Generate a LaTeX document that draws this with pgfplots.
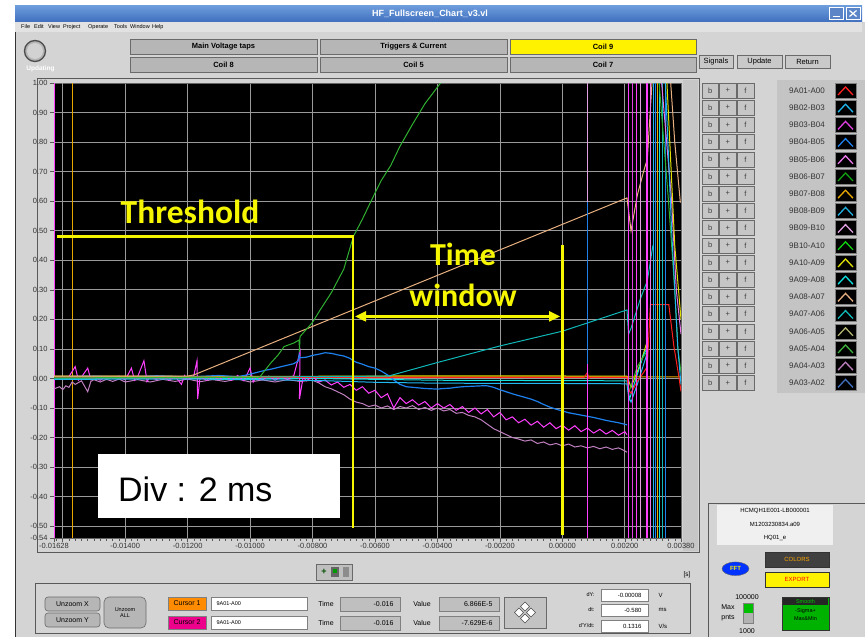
\documentclass[border=0pt]{standalone}
\usepackage{fontspec}
\setmainfont{Liberation Sans}
\newfontfamily\calib{Carlito}
\usepackage{pgfplots}
\pgfplotsset{compat=1.18}
\usetikzlibrary{arrows.meta}
\newcommand\fs[1]{\fontsize{#1}{#1}\selectfont}
\newcommand\tl[1]{\mbox{#1}}
\definecolor{panel}{HTML}{D4D4D4}
\definecolor{btngray}{HTML}{B6B6B6}
\definecolor{btnline}{HTML}{6A6A6A}
\definecolor{titletop}{HTML}{6E9EDC}
\definecolor{titlebot}{HTML}{3F6FBE}
\definecolor{menugray}{HTML}{E2E2E2}
\definecolor{lblgray}{HTML}{C4C4C4}
\definecolor{gridc}{HTML}{9A9A9A}
\definecolor{yel}{HTML}{F6F600}
\definecolor{cA}{HTML}{FF2020}
\definecolor{cB}{HTML}{20B8F0}
\definecolor{cC}{HTML}{E040E0}
\definecolor{cD}{HTML}{1E80EC}
\definecolor{cE}{HTML}{E878E8}
\definecolor{cF}{HTML}{10A010}
\definecolor{cG}{HTML}{E8A800}
\definecolor{cH}{HTML}{20B0E0}
\definecolor{cI}{HTML}{E0A0E0}
\definecolor{cJ}{HTML}{10D010}
\definecolor{cK}{HTML}{E0E000}
\definecolor{cL}{HTML}{10E0E0}
\definecolor{cM}{HTML}{E8B080}
\definecolor{cN}{HTML}{10B8B8}
\definecolor{cO}{HTML}{B0B070}
\definecolor{cP}{HTML}{40B040}
\definecolor{cQ}{HTML}{C080C0}
\definecolor{cR}{HTML}{4070C0}
\definecolor{magb}{HTML}{FF40FF}
\definecolor{grn}{HTML}{30B030}
\tikzset{btn/.style={draw=btnline, fill=btngray, line width=0.6pt},
  fld/.style={draw=gray, fill=white, line width=0.5pt},
  ind/.style={draw=gray, fill=panel!90!black, line width=0.5pt}}
\begin{document}
\begin{tikzpicture}
\path[use as bounding box] (0,0) rectangle (865pt,-637pt);
\begin{scope}[x=1pt,y=-1pt]
\fill[white] (0,0) rectangle (865,637);
\fill[panel] (15,22) rectangle (865,637);
\draw[black!80, line width=0.8pt] (15,5) -- (15,637);
\shade[top color=titletop, bottom color=titlebot] (15,5) rectangle (862,22);
\node[text=white, font=\bfseries\fs{9}] at (430,14) {HF\_Fullscreen\_Chart\_v3.vl};
\draw[white, fill=titlebot!85!white, line width=0.5pt] (829,7.5) rectangle (843,19.5);
\draw[white, line width=1.2pt] (832.5,16.5) -- (839.5,16.5);
\draw[white, fill=titlebot!85!white, line width=0.5pt] (846,7.5) rectangle (860,19.5);
\draw[white, line width=1.2pt] (849.5,10.5) -- (856.5,16.5) (849.5,16.5) -- (856.5,10.5);
\fill[menugray] (15,22) rectangle (862,32);
\foreach \w/\xx in {File/21,Edit/34,View/48,Project/63,Operate/88,Tools/114,Window/130,Help/152}
  \node[anchor=west, inner sep=0pt, font=\fs{5.5}] at (\xx,27) {\w};
% LED
\fill[gray!60] (35,51) circle (10.5);
\fill[gray!35] (35,51) circle (8);
\draw[black!70, line width=1.3pt] (35,51) circle (10.5);
\node[text=white, font=\bfseries\fs{6.5}] at (40.5,69) {Updating};
% top buttons
\draw[btn] (130,39) rectangle (317,54); \node[font=\bfseries\fs{7.5}] at (223.5,46.5) {Main Voltage taps};
\draw[btn] (320,39) rectangle (507,54); \node[font=\bfseries\fs{7.5}] at (413.5,46.5) {Triggers \& Current};
\draw[btn, fill=yellow] (510,39) rectangle (696,54); \node[font=\bfseries\fs{7.5}] at (603,46.5) {Coil 9};
\draw[btn] (130,57) rectangle (317,72); \node[font=\bfseries\fs{7.5}] at (223.5,64.5) {Coil 8};
\draw[btn] (320,57) rectangle (507,72); \node[font=\bfseries\fs{7.5}] at (413.5,64.5) {Coil 5};
\draw[btn] (510,57) rectangle (696,72); \node[font=\bfseries\fs{7.5}] at (603,64.5) {Coil 7};
\draw[btn, fill=panel!95!black] (699,55) rectangle (733,68); \node[font=\fs{7.5}] at (716,61.5) {Signals};
\draw[btn, fill=panel!95!black] (737,55) rectangle (782,68); \node[font=\fs{7.5}] at (759.5,61.5) {Update};
\draw[btn, fill=panel!95!black] (785,55) rectangle (830,68); \node[font=\fs{7.5}] at (807.5,61.5) {Return};
% chart panel
\draw[gray!70!black, line width=0.5pt] (37,78) rectangle (699,552);
\fill[gray!45] (683,80) rectangle (698,551);
\node[font=\fs{6.5}] at (687,575) {[s]};
% legend
\fill[lblgray] (777,80) rectangle (865,393);
\foreach \lab/\col [count=\i from 0] in {9A01-A00/cA,9B02-B03/cB,9B03-B04/cC,9B04-B05/cD,9B05-B06/cE,9B06-B07/cF,9B07-B08/cG,9B08-B09/cH,9B09-B10/cI,9B10-A10/cJ,9A10-A09/cK,9A09-A08/cL,9A08-A07/cM,9A07-A06/cN,9A06-A05/cO,9A05-A04/cP,9A04-A03/cQ,9A03-A02/cR}{
  \pgfmathsetmacro\yy{83+17.2*\i}
  \draw[btn, fill=gray!45] (702,\yy) rectangle ++(16.5,15);
  \draw[btn, fill=gray!45] (719.5,\yy) rectangle ++(16.5,15);
  \draw[btn, fill=gray!45] (737,\yy) rectangle ++(17,15);
  \node[font=\fs{7.5}, text=black!75] at (710.2,\yy+7.5) {b};
  \node[font=\fs{7.5}, text=black!75] at (727.7,\yy+7.5) {+};
  \node[font=\fs{7.5}, text=black!75] at (745.5,\yy+7.5) {f};
  \node[font=\fs{8}, text=black!80] at (807,\yy+7.5) {\lab};
  \fill[black] (835,\yy) rectangle ++(21,15);
  \draw[gray, line width=0.4pt] (835,\yy) rectangle ++(21,15);
  \draw[\col, line width=1.3pt] (838,\yy+12) -- (845.5,\yy+4) -- (853,\yy+12);
}
% toolbar
\draw[btn, fill=panel!90!black] (316,564) rectangle (352,580);
\node[font=\bfseries\fs{9}, text=black!70!green] at (324,572) {+};
\fill[black!60] (331,567) rectangle (339,577); \fill[green!60!black] (333,569) rectangle (337,573);
\fill[black!45] (343,567) rectangle (349,577);
% cursor panel
\draw[gray!70!black, line width=0.5pt] (35,583) rectangle (690,633);
\draw[btn, rounded corners=3pt] (45,597) rectangle (100,611); \node[font=\fs{7}] at (72.5,604) {Unzoom X};
\draw[btn, rounded corners=3pt] (45,613) rectangle (100,627); \node[font=\fs{7}] at (72.5,620) {Unzoom Y};
\draw[btn, rounded corners=5pt] (104,597) rectangle (146,628); \node[font=\fs{5.5}, align=center] at (125,612.5) {Unzoom\\ALL};
\draw[gray, fill=orange!90!yellow] (168,597) rectangle (206,610); \node[font=\fs{7}] at (187,603.5) {Cursor 1};
\draw[gray, fill=magenta] (168,616) rectangle (206,629); \node[font=\fs{7}] at (187,622.5) {Cursor 2};
\draw[fld] (211,597) rectangle (307,610); \node[anchor=west, font=\fs{5.5}] at (213,603.5) {9A01-A00};
\draw[fld] (211,616) rectangle (307,629); \node[anchor=west, font=\fs{5.5}] at (213,622.5) {9A01-A00};
\node[font=\fs{7}] at (326,603.5) {Time}; \node[font=\fs{7}] at (326,622.5) {Time};
\draw[ind] (340,597) rectangle (400,611); \node[anchor=east, font=\fs{7}] at (397,604) {-0.016};
\draw[ind] (340,616) rectangle (400,630); \node[anchor=east, font=\fs{7}] at (397,623) {-0.016};
\node[font=\fs{7}] at (422,603.5) {Value}; \node[font=\fs{7}] at (422,622.5) {Value};
\draw[ind] (439,597) rectangle (499,611); \node[anchor=east, font=\fs{7}] at (496,604) {6.866E-5};
\draw[ind] (439,616) rectangle (499,630); \node[anchor=east, font=\fs{7}] at (496,623) {-7.629E-6};
\draw[btn, fill=panel!92!black] (504,597) rectangle (546,628);
\foreach \dx/\dy in {0/-6,0/6,-6/0,6/0}
  \draw[black!70, fill=white, line width=0.6pt] (525+\dx,612.5+\dy) ++(0,-4.5) -- ++(4.5,4.5) -- ++(-4.5,4.5) -- ++(-4.5,-4.5) -- cycle;
\node[anchor=east, font=\fs{5.5}] at (598,595) {dY:};
\node[anchor=east, font=\fs{5.5}] at (598,610) {dt:};
\node[anchor=east, font=\fs{5.5}] at (598,626) {d'Y/dt:};
\draw[fld] (601,589) rectangle (648,601); \node[anchor=east, font=\fs{6}] at (645,595) {-0.00008};
\draw[fld] (601,604) rectangle (648,616); \node[anchor=east, font=\fs{6}] at (645,610) {-0.580};
\draw[fld] (601,620) rectangle (648,632); \node[anchor=east, font=\fs{6}] at (645,626) {0.1316};
\node[anchor=west, font=\fs{6}] at (655,595) {V};
\node[anchor=west, font=\fs{6}] at (655,610) {ms};
\node[anchor=west, font=\fs{6}] at (655,626) {V/s};
% right bottom panel
\draw[gray!70!black, line width=0.5pt] (708,503) rectangle (866,640);
\fill[gray!12] (717,505) rectangle (833,545);
\node[font=\fs{6}] at (775,511) {HCMQH1E001-LB000001};
\node[font=\fs{6}] at (775,524.5) {M1203230834.a09};
\node[font=\fs{6}] at (775,538) {HQ01\_e};
\fill[blue!80!cyan] (735.5,568.75) ellipse (13.5 and 6.8);
\draw[black!60] (735.5,568.75) ellipse (13.5 and 6.8);
\node[font=\bfseries\fs{6}, text=yellow] at (735.5,568.75) {FFT};
\draw[black!80, fill=black!75, line width=0.8pt] (765,552) rectangle (829,567);
\node[font=\fs{6}, text=orange!70!yellow] at (797,559.5) {COLORS};
\draw[black!80, fill=yellow, line width=0.8pt] (765,572) rectangle (829,587);
\node[font=\fs{6}, text=red] at (797,579.5) {EXPORT};
\node[font=\fs{7}] at (747,597.5) {100000};
\node[font=\fs{7}] at (728,607) {Max};
\node[font=\fs{7}] at (728,618) {pnts};
\node[font=\fs{7}] at (747,631) {1000};
\draw[gray] (743,603) rectangle (753,623);
\fill[green!75!black] (743.5,603.5) rectangle (752.5,613);
\fill[gray!60] (743.5,613) rectangle (752.5,622.5);
\draw[black!80, fill=green!70!black, line width=0.6pt] (782,597) rectangle (829,630);
\fill[black!85] (783,598) rectangle (828,605);
\node[font=\fs{5.5}, text=green!80!black] at (805.5,601.5) {Smooth};
\node[font=\fs{5.5}] at (805.5,611) {-Sigma+};
\node[font=\fs{5.5}] at (805.5,618.5) {Max\&Min};
\end{scope}
\begin{axis}[
  at={(54pt,-538pt)}, anchor=south west,
  scale only axis, width=627pt, height=455pt,
  xmin=-0.01628, xmax=0.0038, ymin=-0.54, ymax=1.0,
  axis background/.style={fill=black},
  axis line style={draw=black!60, line width=0.6pt},
  xtick={-0.01628,-0.014,-0.012,-0.01,-0.008,-0.006,-0.004,-0.002,0,0.002,0.0038},
  xticklabels={\tl{-0.01628},\tl{-0.01400},\tl{-0.01200},\tl{-0.01000},\tl{-0.00800},\tl{-0.00600},\tl{-0.00400},\tl{-0.00200},\tl{0.00000},\tl{0.00200},\tl{0.00380}},
  extra x ticks={-0.016}, extra x tick labels={},
  minor xtick={-0.0162,-0.016,...,0.0038},
  ytick={-0.54,-0.5,-0.4,-0.3,-0.2,-0.1,0,0.1,0.2,0.3,0.4,0.5,0.6,0.7,0.8,0.9,1.0},
  yticklabels={\tl{-0.54},\tl{-0.50},\tl{-0.40},\tl{-0.30},\tl{-0.20},\tl{-0.10},\tl{0.00},\tl{0.10},\tl{0.20},\tl{0.30},\tl{0.40},\tl{0.50},\tl{0.60},\tl{0.70},\tl{0.80},\tl{0.90},\tl{1.00}},
  scaled x ticks=false, scaled y ticks=false,
  xtick pos=bottom, ytick pos=left, tick align=outside,
  major tick length=4pt, minor tick length=2.5pt,
  tick style={black!65, line width=0.5pt},
  grid=major, major grid style={gridc, line width=0.7pt},
  ticklabel style={font=\fs{7.5}, text=black!80},
  xticklabel style={yshift=2pt},
  yticklabel style={xshift=1pt},
  no markers, clip=true,
  every axis plot/.append style={line width=1pt},
]
% cursors
\addplot[cG, line width=0.8pt] coordinates {(-0.01570,-0.54) (-0.01570,1.0)};
\addplot[magb, line width=1pt] coordinates {(-0.01626,-0.54) (-0.01626,1.0)};
% near-zero flat series
\addplot[cK] coordinates {(-0.01628,0.008) (-0.009,0.007) (-0.004,0.009) (0.00207,0.008) (0.0022,-0.03) (0.0025,0.05) (0.0027,0.12)};
\addplot[cL] coordinates {(-0.01628,0.002) (-0.008,0.000) (-0.004,-0.006) (0.00207,-0.008) (0.00215,-0.07) (0.0026,0.08) (0.0027,0.10)};
\addplot[grn] coordinates {(0.00212,-0.05) (0.0024,0.04) (0.0027,0.09)};
% mauve
\addplot[cQ] coordinates {
(-0.01628,-0.035) (-0.0161,-0.028) (-0.0160,-0.038) (-0.0159,-0.025) (-0.0158,-0.03) (-0.0157,-0.012)
(-0.0156,-0.02) (-0.0154,-0.008) (-0.0152,-0.045) (-0.0151,-0.01) (-0.0150,-0.004) (-0.0148,-0.012)
(-0.0146,-0.003) (-0.0144,-0.01) (-0.0142,-0.002) (-0.0140,-0.012) (-0.0136,-0.004) (-0.0132,-0.012)
(-0.0128,-0.003) (-0.0124,-0.01) (-0.0120,-0.002) (-0.0116,-0.011) (-0.0112,-0.004) (-0.0108,-0.01)
(-0.0104,-0.002) (-0.0100,-0.012) (-0.0096,-0.005) (-0.0092,-0.012) (-0.0088,-0.004) (-0.0084,-0.01)
(-0.0080,-0.006) (-0.0078,-0.015) (-0.0076,-0.028) (-0.0074,-0.035) (-0.0072,-0.045) (-0.0070,-0.055)
(-0.0068,-0.07) (-0.0066,-0.08) (-0.0064,-0.085) (-0.0062,-0.095) (-0.0060,-0.09) (-0.0058,-0.1)
(-0.0056,-0.093) (-0.0054,-0.105) (-0.0052,-0.095) (-0.0050,-0.1) (-0.0048,-0.092) (-0.0046,-0.105)
(-0.0044,-0.098) (-0.0042,-0.108) (-0.0040,-0.1) (-0.0038,-0.11) (-0.0036,-0.105) (-0.0034,-0.118)
(-0.0032,-0.115) (-0.0030,-0.125) (-0.0028,-0.13) (-0.0026,-0.14) (-0.0024,-0.155) (-0.0022,-0.17)
(-0.0020,-0.18) (-0.0018,-0.19) (-0.0016,-0.2) (-0.0014,-0.205) (-0.0012,-0.212) (-0.0010,-0.208)
(-0.0008,-0.22) (-0.0006,-0.215) (-0.0004,-0.225) (-0.0002,-0.22) (0.0000,-0.228) (0.0002,-0.222)
(0.0004,-0.232) (0.0006,-0.228) (0.0008,-0.235) (0.0010,-0.23) (0.0012,-0.238) (0.0014,-0.232)
(0.0016,-0.24) (0.0018,-0.235) (0.0020,-0.245) (0.00207,-0.25)};
% magenta
\addplot[magb] coordinates {
(-0.01628,0.00) (-0.0162,0.006) (-0.0160,-0.004) (-0.0158,0.007) (-0.0156,0.04) (-0.0155,-0.006)
(-0.0154,0.005) (-0.0152,0.035) (-0.0151,-0.004) (-0.0150,0.006) (-0.0148,-0.006) (-0.0146,0.007)
(-0.0144,0.0) (-0.0142,0.008) (-0.0140,-0.005) (-0.0138,0.035) (-0.0137,-0.006) (-0.0136,0.006)
(-0.0134,0.06) (-0.0133,-0.01) (-0.0132,0.006) (-0.0130,-0.004) (-0.0128,0.008) (-0.0126,-0.006)
(-0.0124,0.007) (-0.0122,-0.02) (-0.0121,0.01) (-0.0120,-0.004) (-0.0118,0.01) (-0.0117,0.06)
(-0.01168,-0.07) (-0.0116,0.006) (-0.0114,-0.006) (-0.0112,0.01) (-0.0110,-0.004) (-0.0108,0.008)
(-0.0106,-0.006) (-0.0104,0.01) (-0.0102,-0.008) (-0.0100,0.035) (-0.0099,-0.012) (-0.0098,0.006)
(-0.0096,-0.005) (-0.0094,0.008) (-0.0092,-0.006) (-0.0090,0.006) (-0.0088,-0.004) (-0.0086,0.01)
(-0.0084,0.09) (-0.00842,-0.07) (-0.0083,0.005) (-0.0082,-0.008) (-0.0080,0.006) (-0.0078,-0.012)
(-0.0076,-0.005) (-0.0074,-0.022) (-0.0072,-0.012) (-0.0070,-0.03) (-0.0068,-0.02) (-0.0066,-0.04)
(-0.0064,-0.028) (-0.0062,-0.05) (-0.0060,-0.04) (-0.0058,-0.065) (-0.0056,-0.052) (-0.0054,-0.1)
(-0.0052,-0.065) (-0.0050,-0.085) (-0.0048,-0.072) (-0.0046,-0.09) (-0.0044,-0.078) (-0.0042,-0.1)
(-0.0040,-0.085) (-0.0038,-0.1) (-0.0036,-0.088) (-0.0034,-0.108) (-0.0032,-0.095) (-0.0030,-0.115)
(-0.0028,-0.1) (-0.0026,-0.12) (-0.0024,-0.105) (-0.0022,-0.13) (-0.0020,-0.115) (-0.0018,-0.14)
(-0.0016,-0.13) (-0.0014,-0.15) (-0.0012,-0.138) (-0.0010,-0.158) (-0.0008,-0.145) (-0.0006,-0.165)
(-0.0004,-0.15) (-0.0002,-0.17) (0.0000,-0.158) (0.0002,-0.175) (0.0004,-0.16) (0.0006,-0.18)
(0.0008,-0.168) (0.0010,-0.185) (0.0012,-0.172) (0.0014,-0.188) (0.0016,-0.176) (0.0018,-0.192)
(0.0020,-0.18) (0.00207,-0.19)};
% blue
\addplot[cD, line width=1.2pt] coordinates {
(-0.01628,0.005) (-0.015,0.008) (-0.014,0.004) (-0.013,0.009) (-0.012,0.005) (-0.011,0.01)
(-0.0104,0.006) (-0.0101,0.012) (-0.0098,0.02) (-0.0095,0.028) (-0.0093,0.032) (-0.0090,0.04)
(-0.0088,0.045) (-0.0086,0.05) (-0.00845,0.06) (-0.00843,0.08) (-0.0084,0.07) (-0.0082,0.072)
(-0.0080,0.078) (-0.0078,0.082) (-0.0076,0.087) (-0.0074,0.085) (-0.0072,0.08) (-0.0070,0.076)
(-0.0068,0.068) (-0.0067,0.06) (-0.0066,0.055) (-0.0064,0.048) (-0.0062,0.04) (-0.0060,0.035)
(-0.0058,0.025) (-0.0056,0.012) (-0.0055,0.005) (-0.0054,-0.005) (-0.0052,-0.02) (-0.0050,-0.028)
(-0.0048,-0.03) (-0.0046,-0.032) (-0.0044,-0.034) (-0.0042,-0.035) (-0.0040,-0.036) (-0.0038,-0.034)
(-0.0036,-0.033) (-0.0034,-0.03) (-0.0032,-0.028) (-0.0030,-0.027) (-0.0028,-0.026) (-0.0026,-0.025)
(-0.0024,-0.025) (-0.0022,-0.03) (-0.0020,-0.038) (-0.0018,-0.045) (-0.0016,-0.052) (-0.0014,-0.058)
(-0.0012,-0.064) (-0.0010,-0.07) (-0.0008,-0.078) (-0.0006,-0.088) (-0.0004,-0.097) (-0.0002,-0.104)
(0.0000,-0.11) (0.0002,-0.116) (0.0004,-0.12) (0.0006,-0.124) (0.0008,-0.128) (0.0010,-0.132)
(0.0012,-0.137) (0.0014,-0.142) (0.0016,-0.146) (0.0018,-0.15) (0.0020,-0.155) (0.00207,-0.157)};
% cyan, orange, red
\addplot[cB] coordinates {(-0.01628,-0.003) (-0.012,-0.002) (-0.009,-0.005) (-0.0075,-0.008) (-0.006,-0.013) (-0.004,-0.016) (0.0,-0.017) (0.00207,-0.018) (0.00212,-0.06) (0.0022,-0.08) (0.0024,-0.02) (0.0027,0.08)};
\addplot[cG] coordinates {(-0.01628,0.005) (-0.008,0.006) (0.0,0.005) (0.0038,0.005)};
\addplot[cA] coordinates {(-0.01628,0.003) (0.0007,0.004) (0.0008,0.02) (0.00085,0.0) (0.0009,0.004) (0.00207,0.004) (0.00213,-0.04) (0.0022,-0.05) (0.0024,-0.01) (0.0026,0.02) (0.00272,0.04) (0.00282,0.25) (0.00341,0.25) (0.00357,0.11) (0.00373,0.007) (0.0038,-0.044)};
% teal
\addplot[cN] coordinates {(-0.01628,0.0) (-0.00557,0.008) (-0.004,0.054) (-0.002,0.11) (0.0,0.16) (0.00207,0.232) (0.00212,0.15) (0.0022,0.17) (0.0025,0.27) (0.00272,0.33) (0.0029,0.45)};
% tan
\addplot[cM] coordinates {(-0.01628,0.008) (-0.012,0.008) (-0.0118,0.012) (0.00207,0.611) (0.0022,0.50) (0.0024,0.62) (0.0026,0.70) (0.00272,0.742) (0.0029,1.05) (0.0033,1.05) (0.00347,1.0) (0.0036,0.8) (0.00378,0.595)};
% green
\addplot[grn] coordinates {(-0.01628,0.002) (-0.0097,0.004) (-0.00955,0.024) (-0.00934,0.052) (-0.0091,0.08) (-0.00891,0.108) (-0.0086,0.12) (-0.00843,0.13) (-0.00842,0.09) (-0.0084,0.142) (-0.0080,0.19) (-0.00775,0.233) (-0.0074,0.29) (-0.0070,0.37) (-0.00669,0.481) (-0.0064,0.54) (-0.0061,0.606) (-0.0058,0.67) (-0.0055,0.72) (-0.0052,0.786) (-0.0048,0.86) (-0.0044,0.93) (-0.0039,1.0) (-0.0036,1.05)};
% spike at 0.0008
\addplot[cI] coordinates {(0.0008,-0.54) (0.0008,1.0)};
\addplot[cD] coordinates {(0.0008,-0.54) (0.0008,0.596)};
\addplot[magb] coordinates {(0.00082,-0.54) (0.00082,0.05)};
% right-hand spikes
\addplot[magb] coordinates {(0.00212,-0.54) (0.00212,1.0)};
\addplot[cC] coordinates {(0.00224,-0.54) (0.00224,1.0)};
\addplot[magb] coordinates {(0.00237,-0.54) (0.00237,1.0)};
\addplot[cI] coordinates {(0.00250,-0.54) (0.00250,1.0)};
\addplot[magb, line width=2pt] coordinates {(0.00272,-0.54) (0.00272,1.0)};
\addplot[cE] coordinates {(0.00282,-0.54) (0.00282,1.0)};
\addplot[cB] coordinates {(0.00292,-0.54) (0.00292,1.0)};
\addplot[cD] coordinates {(0.00298,-0.54) (0.00298,1.0)};
\addplot[cG] coordinates {(0.00304,-0.54) (0.00304,1.0)};
\addplot[cL] coordinates {(0.00312,-0.54) (0.00312,1.0)};
\addplot[cN] coordinates {(0.00320,-0.54) (0.00320,1.0)};
\addplot[cD] coordinates {(0.00330,-0.54) (0.00330,1.0)};
\addplot[cE] coordinates {(0.00318,1.0) (0.0035,0.6) (0.00365,0.3) (0.0038,0.15)};
\addplot[grn] coordinates {(0.0031,1.0) (0.0034,0.6) (0.0036,0.3) (0.0037,0.1) (0.0038,0.02)};
\addplot[cB] coordinates {(0.0033,1.0) (0.0035,0.5) (0.0037,0.1) (0.0038,-0.02)};
\addplot[cK] coordinates {(0.00335,1.0) (0.0036,0.45) (0.0038,0.2)};
% annotations
\draw[yel, line width=2.6pt, line join=miter] (axis cs:-0.01618,0.48) -- (axis cs:-0.00671,0.48) -- (axis cs:-0.00671,-0.506);
\draw[yel, line width=2.6pt] (axis cs:0.0,0.453) -- (axis cs:0.0,-0.53);
\draw[yel, line width=2.2pt, {Triangle[length=11pt,width=10pt]}-{Triangle[length=11pt,width=10pt]}] (axis cs:-0.00664,0.21) -- (axis cs:-0.00007,0.21);
\end{axis}
\begin{scope}[x=1pt,y=-1pt]
\node[anchor=base, font=\calib\bfseries\fs{33.5}, text=yel, inner sep=0pt] at (190,223) {Threshold};
\node[anchor=base, font=\calib\bfseries\fs{32}, text=yel, inner sep=0pt] at (463,265) {Time};
\node[anchor=base, font=\calib\bfseries\fs{32}, text=yel, inner sep=0pt] at (463,306) {window};
\fill[white] (98,454) rectangle (340,518);
\node[anchor=base west, font=\fs{34}, inner sep=0pt] at (118,501) {Div : 2 ms};
\end{scope}
\end{tikzpicture}
\end{document}
